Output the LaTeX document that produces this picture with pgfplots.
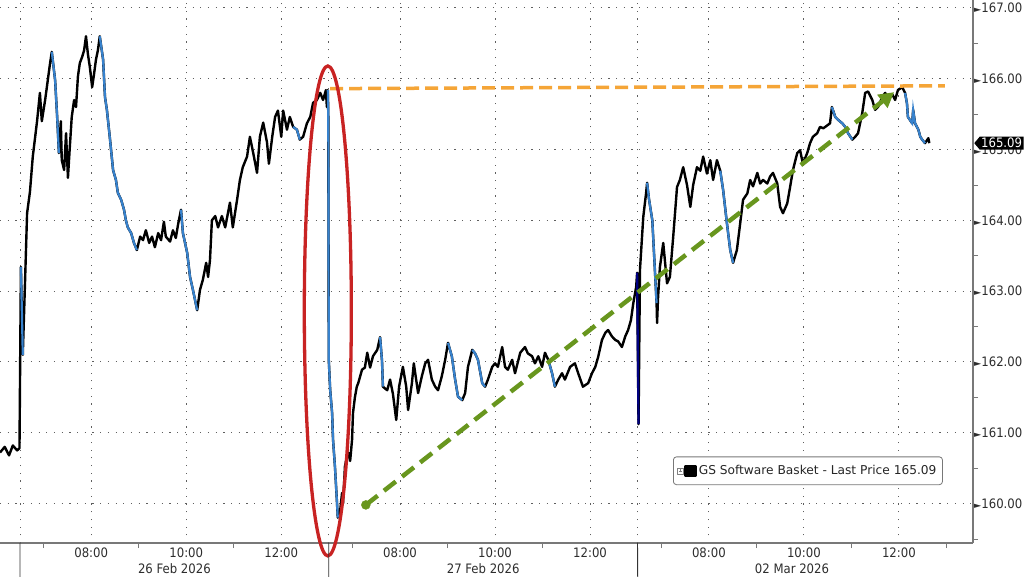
\documentclass[border=0pt]{standalone}
\usepackage{pgfplots}
\pgfplotsset{compat=1.18}
\usepackage{pgfplotstable}
\usepackage{fontspec}
\setmainfont{DejaVu Sans Condensed}
\newfontfamily\reg{DejaVu Sans}
\usetikzlibrary{shapes.symbols, arrows.meta}

\definecolor{bbblue}{RGB}{55,130,205}
\definecolor{ellred}{RGB}{200,35,35}
\definecolor{orng}{RGB}{245,165,55}
\definecolor{grn}{RGB}{104,150,30}
\definecolor{gridc}{RGB}{95,95,95}
\definecolor{axc}{RGB}{120,120,120}
\definecolor{lab}{RGB}{45,45,45}
\newcommand\tf{\fontsize{13}{13}\selectfont}

\pgfplotstableread{
x y
-0.42 160.72
-0.32 160.80
-0.23 160.68
-0.15 160.82
-0.06 160.75
-0.01 160.78
0.02 163.34
0.06 162.10
0.11 163.20
0.15 164.10
0.21 164.40
0.27 164.90
0.36 165.40
0.42 165.80
0.46 165.40
0.53 165.70
0.59 166.00
0.63 166.20
0.67 166.38
0.74 165.98
0.78 165.50
0.82 164.95
0.86 165.40
0.88 164.85
0.93 164.71
0.97 165.23
1.01 164.60
1.05 165.04
1.09 165.46
1.14 165.70
1.18 165.60
1.22 166.03
1.26 166.22
1.31 166.31
1.35 166.40
1.39 166.60
1.43 166.35
1.47 166.17
1.52 165.88
1.56 166.07
1.60 166.27
1.64 166.40
1.68 166.60
1.75 166.27
1.79 165.74
1.83 165.56
1.89 165.18
1.96 164.71
2.02 164.57
2.06 164.39
2.13 164.29
2.19 164.15
2.23 164.00
2.27 163.90
2.34 163.82
2.40 163.68
2.46 163.58
2.53 163.77
2.59 163.72
2.65 163.86
2.72 163.68
2.78 163.77
2.84 163.62
2.91 163.82
2.97 163.72
3.03 163.98
3.07 163.77
3.16 163.70
3.22 163.86
3.28 163.75
3.33 163.95
3.39 164.15
3.43 163.82
3.52 163.54
3.58 163.20
3.64 163.02
3.73 162.73
3.79 163.02
3.85 163.16
3.92 163.40
3.96 163.20
4.00 163.44
4.04 164.00
4.11 164.06
4.17 163.90
4.25 164.06
4.32 163.90
4.42 164.25
4.48 163.90
4.57 164.29
4.63 164.57
4.69 164.75
4.78 164.90
4.84 165.18
4.91 164.95
4.99 164.67
5.05 165.18
5.12 165.38
5.20 165.10
5.24 164.80
5.31 165.18
5.37 165.46
5.43 165.55
5.50 165.18
5.54 165.55
5.62 165.28
5.68 165.46
5.75 165.32
5.83 165.28
5.89 165.14
5.96 165.18
6.04 165.37
6.11 165.46
6.17 165.66
6.25 165.70
6.32 165.80
6.38 165.70
6.44 165.84
6.46 165.60
6.48 165.84
6.49 165.49
6.50 162.03
6.53 161.60
6.57 161.28
6.59 160.90
6.63 160.52
6.67 160.05
6.69 159.80
6.74 159.90
6.78 160.15
6.80 160.00
6.84 160.52
6.88 160.66
6.91 160.72
6.95 160.60
6.99 160.90
7.01 161.28
7.05 161.50
7.09 161.65
7.12 161.70
7.20 161.89
7.26 161.92
7.31 162.13
7.37 161.92
7.43 162.08
7.52 162.17
7.58 162.35
7.62 162.02
7.64 161.65
7.73 161.60
7.79 161.75
7.85 161.55
7.92 161.18
7.98 161.65
8.06 161.93
8.13 161.65
8.17 161.32
8.25 161.70
8.29 161.98
8.38 161.56
8.46 161.80
8.53 161.98
8.59 162.03
8.67 161.75
8.74 161.65
8.80 161.60
8.88 161.80
8.95 162.03
9.01 162.27
9.09 162.08
9.16 161.75
9.22 161.51
9.31 161.46
9.37 161.56
9.43 161.93
9.52 162.17
9.58 162.12
9.64 162.03
9.73 161.70
9.79 161.65
9.85 161.75
9.94 161.93
10.00 161.98
10.06 161.93
10.15 162.21
10.21 161.93
10.27 161.89
10.36 162.03
10.42 161.84
10.53 162.13
10.63 162.21
10.69 162.12
10.78 162.08
10.84 161.98
10.91 162.08
10.99 161.93
11.05 162.13
11.12 162.03
11.20 161.84
11.26 161.65
11.33 161.75
11.41 161.84
11.47 161.75
11.58 161.93
11.68 161.98
11.75 161.84
11.85 161.65
11.96 161.70
12.04 161.84
12.11 161.93
12.17 162.07
12.25 162.31
12.32 162.41
12.38 162.45
12.46 162.36
12.53 162.31
12.59 162.29
12.67 162.21
12.74 162.36
12.80 162.45
12.86 162.59
12.91 162.83
12.97 163.06
12.99 163.26
13.02 161.12
13.05 163.30
13.12 164.05
13.18 164.39
13.20 164.53
13.24 164.30
13.31 164.00
13.35 163.48
13.40 162.83
13.41 162.55
13.43 162.90
13.47 163.34
13.54 163.68
13.62 163.11
13.68 163.20
13.75 163.77
13.83 164.47
13.89 164.57
13.96 164.75
14.04 164.50
14.11 164.19
14.17 164.50
14.25 164.75
14.32 164.70
14.38 164.90
14.46 164.66
14.53 164.85
14.59 164.57
14.67 164.85
14.74 164.70
14.80 164.43
14.88 163.96
14.95 163.58
15.01 163.40
15.09 163.58
15.16 163.96
15.22 164.29
15.31 164.38
15.37 164.57
15.43 164.48
15.52 164.67
15.58 164.52
15.64 164.57
15.73 164.52
15.79 164.62
15.85 164.67
15.94 164.52
16.00 164.19
16.06 164.10
16.15 164.24
16.21 164.47
16.27 164.71
16.36 164.95
16.42 164.99
16.48 164.80
16.57 164.95
16.63 165.09
16.69 165.18
16.78 165.23
16.84 165.32
16.91 165.30
16.99 165.34
17.05 165.37
17.09 165.60
17.16 165.46
17.22 165.42
17.31 165.37
17.37 165.32
17.43 165.23
17.52 165.14
17.58 165.18
17.64 165.23
17.73 165.52
17.79 165.80
17.85 165.82
17.94 165.70
18.00 165.56
18.06 165.60
18.15 165.74
18.21 165.80
18.27 165.72
18.36 165.78
18.42 165.70
18.48 165.84
18.57 165.88
18.63 165.80
18.67 165.65
18.69 165.46
18.78 165.37
18.80 165.56
18.84 165.37
18.91 165.28
18.95 165.18
18.99 165.14
19.05 165.09
19.12 165.16
19.14 165.09
}\price

\begin{document}
\begin{tikzpicture}
\useasboundingbox (0,-33pt) rectangle (1024pt,543pt);
\begin{axis}[
  at={(0,0)}, anchor=south west,
  scale only axis, width=973pt, height=543pt,
  xmin=-0.42, xmax=20.06, ymin=159.44, ymax=167.11,
  clip=false,
  axis x line*=bottom, axis y line*=right,
  axis line style={draw=axc, line width=1.6pt},
  tick align=outside,
  major tick length=0pt, minor tick length=5pt,
  xtick={1.5,3.5,5.5,8,10,12,14.5,16.5,18.5},
  xticklabels={08:00,10:00,12:00,08:00,10:00,12:00,08:00,10:00,12:00},
  minor xtick={0.5,2.5,4.5,7,9,11,13.5,15.5,17.5,19.5},
  extra x ticks={0,6.5,13},
  extra x tick labels={},
  extra x tick style={grid=major},
  xtick style={draw=axc, line width=0.8pt},
  xticklabel style={font=\tf, text=lab, yshift=-1pt},
  ytick={160,161,162,163,164,165,166,167},
  minor ytick={159.5,160.5,161.5,162.5,163.5,164.5,165.5,166.5},
  ytick style={draw=axc, line width=0.8pt},
  yticklabel={\scalebox{0.8}[0.65]{►}\pgfmathprintnumber[fixed,fixed zerofill,precision=2,assume math mode=true]{\tick}},
  yticklabel style={font=\tf, text=lab, anchor=west, inner xsep=1pt, xshift=0pt},
  grid=major,
  major grid style={draw=gridc, line width=0.9pt, dash pattern=on 1.2pt off 6.5pt},
  legend style={at={(0.969,0.107)}, anchor=south east, draw=axc, rounded corners=3pt,
    font=\reg\fontsize{12.2}{13}\selectfont, text=black!85, fill=white, inner xsep=4pt, inner ysep=6.5pt,
    line width=0.8pt},
  legend cell align=left,
]
% price
\addplot[black, line width=2.4pt, line join=round,
  legend image code/.code={
    \draw[gray, line width=0.4pt, fill=white, sharp corners] (-3pt,-3pt) rectangle (3pt,3pt);
    \draw[gray, line width=0.4pt, sharp corners] (-1.6pt,0pt) -- (1.6pt,0pt) (0pt,-1.6pt) -- (0pt,1.6pt);
    \fill[black, sharp corners] (5pt,-5pt) rectangle (15pt,5pt);
  }] table {\price};
\addlegendentry{GS Software Basket - Last Price 165.09}
% declining stretches in blue
\addplot[bbblue, line width=2.2pt, forget plot, restrict x to domain=0.015:0.065] table {\price};
\addplot[bbblue, line width=2.2pt, forget plot, restrict x to domain=0.66:0.83] table {\price};
\addplot[bbblue, line width=2.2pt, forget plot, restrict x to domain=1.67:2.47] table {\price};
\addplot[bbblue, line width=2.2pt, forget plot, restrict x to domain=3.38:3.74] table {\price};
\addplot[bbblue, line width=2.2pt, forget plot, restrict x to domain=5.74:5.90] table {\price};
\addplot[bbblue, line width=2.2pt, forget plot, restrict x to domain=6.475:6.70] table {\price};
\addplot[bbblue, line width=2.2pt, forget plot, restrict x to domain=7.57:7.65] table {\price};
\addplot[bbblue, line width=2.2pt, forget plot, restrict x to domain=9.00:9.32] table {\price};
\addplot[bbblue, line width=2.2pt, forget plot, restrict x to domain=9.51:9.80] table {\price};
\addplot[bbblue, line width=2.2pt, forget plot, restrict x to domain=11.11:11.27] table {\price};
\addplot[blue!50!black, line width=2.2pt, forget plot, restrict x to domain=12.985:13.03] table {\price};
\addplot[bbblue, line width=2.2pt, forget plot, restrict x to domain=13.19:13.40] table {\price};
\addplot[bbblue, line width=2.2pt, forget plot, restrict x to domain=14.73:15.02] table {\price};
\addplot[bbblue, line width=2.2pt, forget plot, restrict x to domain=17.08:17.53] table {\price};
\addplot[bbblue, line width=2.2pt, forget plot, restrict x to domain=18.62:19.06] table {\price};
% orange resistance line
\addplot[orng, line width=3.5pt, dash pattern=on 13pt off 6pt, forget plot] coordinates {(6.53,165.86) (19.47,165.90)};
% green trend arrow
\addplot[grn, line width=4.5pt, dash pattern=on 15pt off 8pt, -{Triangle[length=15pt,width=16pt]}, forget plot] coordinates {(7.28,159.98) (18.40,165.81)};
\addplot[grn, only marks, mark=*, mark size=4.5pt, forget plot] coordinates {(7.28,159.98)};
% red ellipse
\draw[ellred, line width=3.3pt] (axis cs:6.48,162.72) ellipse [x radius=0.495, y radius=3.46];
% day separators below the axis
\draw[black!80, line width=0.8pt] (axis cs:0,159.44) -- ++(0,-33pt);
\draw[black!80, line width=0.8pt] (axis cs:6.5,159.44) -- ++(0,-33pt);
\draw[black!80, line width=0.8pt] (axis cs:13,159.44) -- ++(0,-33pt);
% date labels
\node[font=\tf, text=lab, anchor=base] at (axis cs:3.25,159.44) [yshift=-30pt] {26 Feb 2026};
\node[font=\tf, text=lab, anchor=base] at (axis cs:9.75,159.44) [yshift=-30pt] {27 Feb 2026};
\node[font=\tf, text=lab, anchor=base] at (axis cs:16.25,159.44) [yshift=-30pt] {02 Mar 2026};
% last price tag
\node[signal, signal to=west, signal pointer angle=100, fill=black, text=white, font=\tf,
  inner xsep=1.5pt, inner ysep=1.5pt, anchor=west] at (axis cs:20.06,165.09) [xshift=1pt] {165.09};
\end{axis}
\end{tikzpicture}
\end{document}
